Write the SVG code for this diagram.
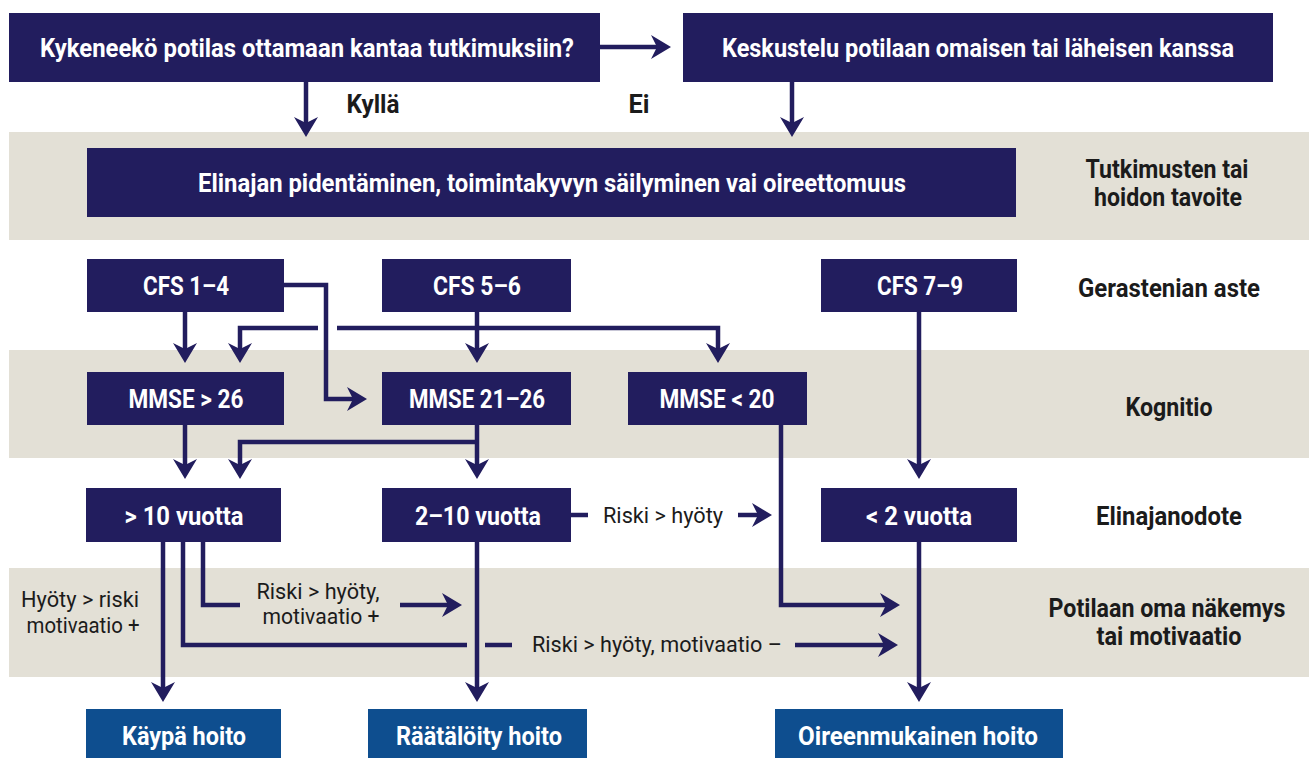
<svg xmlns="http://www.w3.org/2000/svg" width="1314" height="758" viewBox="0 0 1314 758">
<defs>
<style>
.band{fill:#e3e0d6}
.box{fill:#221d5e}
.out{fill:#0e4e8f}
.bt{font-family:Roboto,"Liberation Sans",sans-serif;font-weight:700;font-size:26px;fill:#ffffff;text-anchor:middle}
.lt{font-family:Roboto,"Liberation Sans",sans-serif;font-weight:700;font-size:25px;fill:#1b1b1b;text-anchor:middle}
.rt{font-family:Roboto,"Liberation Sans",sans-serif;font-weight:400;font-size:22px;fill:#1b1b1b;text-anchor:middle}
.c{fill:none;stroke:#221d5e;stroke-width:4.5;stroke-linejoin:miter}
.a{marker-end:url(#ah)}
</style>
<marker id="ah" viewBox="0 0 20 24" refX="8" refY="12" markerWidth="20" markerHeight="24" markerUnits="userSpaceOnUse" orient="auto">
<path d="M0,0 L20,12 L0,24 L6,12 Z" fill="#221d5e"/>
</marker>
</defs>
<rect width="1314" height="758" fill="#ffffff"/>
<g id="bands">
<rect class="band" x="9" y="132" width="1300" height="108"/>
<rect class="band" x="9" y="350" width="1300" height="108"/>
<rect class="band" x="9" y="568" width="1300" height="109"/>
</g>
<g id="row-labels">
<text class="lt" x="1167" y="178" textLength="163" lengthAdjust="spacingAndGlyphs">Tutkimusten tai</text>
<text class="lt" x="1168" y="206" textLength="148" lengthAdjust="spacingAndGlyphs">hoidon tavoite</text>
<text class="lt" x="1169" y="297" textLength="182" lengthAdjust="spacingAndGlyphs">Gerastenian aste</text>
<text class="lt" x="1169" y="416" textLength="87" lengthAdjust="spacingAndGlyphs">Kognitio</text>
<text class="lt" x="1169" y="525" textLength="146" lengthAdjust="spacingAndGlyphs">Elinajanodote</text>
<text class="lt" x="1167" y="617" textLength="237" lengthAdjust="spacingAndGlyphs">Potilaan oma näkemys</text>
<text class="lt" x="1169" y="645" textLength="145" lengthAdjust="spacingAndGlyphs">tai motivaatio</text>
</g>
<g id="connectors">
<path class="c a" d="M600,47 H659"/>
<path class="c a" d="M306,82 V125"/>
<path class="c a" d="M792,82 V125"/>
<path class="c a" d="M185,312 V351"/>
<path class="c a" d="M284,285 H326 V399 H355"/>
<path class="c a" d="M477,312 V351"/>
<path class="c" d="M477,328 H337"/>
<path class="c a" d="M318,328 H240 V351"/>
<path class="c a" d="M477,328 H718 V351"/>
<path class="c a" d="M185,425 V467"/>
<path class="c a" d="M477,425 V467"/>
<path class="c a" d="M477,442 H240 V467"/>
<path class="c a" d="M781,425 V605 H888"/>
<path class="c a" d="M919,312 V467"/>
<path class="c" d="M571,515 H588"/>
<path class="c a" d="M738,515 H760"/>
<path class="c a" d="M163,542 V690"/>
<path class="c" d="M183,542 V645 H467"/>
<path class="c" d="M485,645 H512"/>
<path class="c a" d="M795,645 H886"/>
<path class="c" d="M203,542 V605 H240"/>
<path class="c a" d="M400,605 H450"/>
<path class="c a" d="M477,542 V690"/>
<path class="c a" d="M919,542 V690"/>
</g>
<g id="edge-labels">
<text class="lt" x="373" y="113" textLength="53" lengthAdjust="spacingAndGlyphs">Kyllä</text>
<text class="lt" x="639" y="113" textLength="21" lengthAdjust="spacingAndGlyphs">Ei</text>
<text class="rt" x="663" y="523" textLength="120" lengthAdjust="spacingAndGlyphs">Riski &gt; hyöty</text>
<text class="rt" x="318" y="599" textLength="123" lengthAdjust="spacingAndGlyphs">Riski &gt; hyöty,</text>
<text class="rt" x="321" y="624" textLength="117" lengthAdjust="spacingAndGlyphs">motivaatio +</text>
<text class="rt" x="80" y="607" textLength="118" lengthAdjust="spacingAndGlyphs">Hyöty &gt; riski</text>
<text class="rt" x="83" y="633" textLength="113" lengthAdjust="spacingAndGlyphs">motivaatio +</text>
<text class="rt" x="657" y="652" textLength="250" lengthAdjust="spacingAndGlyphs">Riski &gt; hyöty, motivaatio –</text>
</g>
<g id="n-question">
<rect class="box" x="9" y="13" width="591" height="69"/>
<text class="bt" x="307" y="57" textLength="534" lengthAdjust="spacingAndGlyphs">Kykeneekö potilas ottamaan kantaa tutkimuksiin?</text>
</g>
<g id="n-discussion">
<rect class="box" x="683" y="13" width="590" height="69"/>
<text class="bt" x="978" y="57" textLength="512" lengthAdjust="spacingAndGlyphs">Keskustelu potilaan omaisen tai läheisen kanssa</text>
</g>
<g id="n-goal">
<rect class="box" x="87" y="148" width="929" height="69"/>
<text class="bt" x="552" y="192" textLength="708" lengthAdjust="spacingAndGlyphs">Elinajan pidentäminen, toimintakyvyn säilyminen vai oireettomuus</text>
</g>
<g id="n-cfs14">
<rect class="box" x="87" y="259" width="197" height="53"/>
<text class="bt" x="186" y="295" textLength="86" lengthAdjust="spacingAndGlyphs">CFS 1–4</text>
</g>
<g id="n-cfs56">
<rect class="box" x="382" y="259" width="189" height="53"/>
<text class="bt" x="477" y="295" textLength="88" lengthAdjust="spacingAndGlyphs">CFS 5–6</text>
</g>
<g id="n-cfs79">
<rect class="box" x="821" y="259" width="196" height="53"/>
<text class="bt" x="920" y="295" textLength="86" lengthAdjust="spacingAndGlyphs">CFS 7–9</text>
</g>
<g id="n-mmse26">
<rect class="box" x="87" y="372" width="197" height="53"/>
<text class="bt" x="186" y="408" textLength="115" lengthAdjust="spacingAndGlyphs">MMSE &gt; 26</text>
</g>
<g id="n-mmse2126">
<rect class="box" x="382" y="372" width="189" height="53"/>
<text class="bt" x="477" y="408" textLength="136" lengthAdjust="spacingAndGlyphs">MMSE 21–26</text>
</g>
<g id="n-mmse20">
<rect class="box" x="628" y="372" width="179" height="53"/>
<text class="bt" x="717" y="408" textLength="115" lengthAdjust="spacingAndGlyphs">MMSE &lt; 20</text>
</g>
<g id="n-gt10">
<rect class="box" x="86" y="488" width="195" height="54"/>
<text class="bt" x="184" y="525" textLength="119" lengthAdjust="spacingAndGlyphs">&gt; 10 vuotta</text>
</g>
<g id="n-2to10">
<rect class="box" x="382" y="488" width="189" height="54"/>
<text class="bt" x="478" y="525" textLength="126" lengthAdjust="spacingAndGlyphs">2–10 vuotta</text>
</g>
<g id="n-lt2">
<rect class="box" x="821" y="488" width="196" height="54"/>
<text class="bt" x="919" y="525" textLength="106" lengthAdjust="spacingAndGlyphs">&lt; 2 vuotta</text>
</g>
<g id="n-kaypa">
<rect class="out" x="86" y="709" width="195" height="49"/>
<text class="bt" x="184" y="745" textLength="124" lengthAdjust="spacingAndGlyphs">Käypä hoito</text>
</g>
<g id="n-raataloity">
<rect class="out" x="368" y="709" width="219" height="49"/>
<text class="bt" x="479" y="745" textLength="166" lengthAdjust="spacingAndGlyphs">Räätälöity hoito</text>
</g>
<g id="n-oireen">
<rect class="out" x="775" y="709" width="288" height="49"/>
<text class="bt" x="918" y="745" textLength="240" lengthAdjust="spacingAndGlyphs">Oireenmukainen hoito</text>
</g>
</svg>
